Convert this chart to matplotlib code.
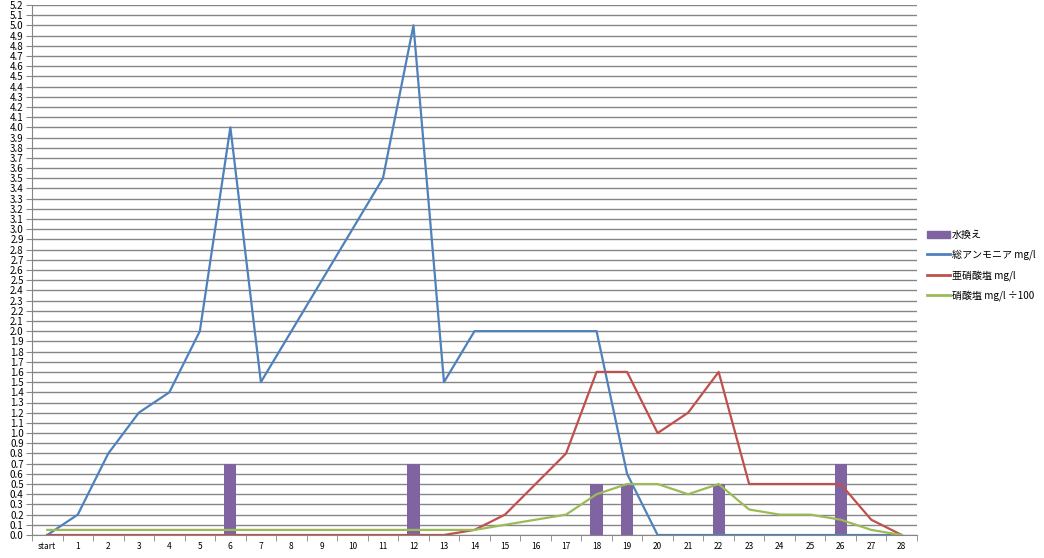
import numpy as np
import matplotlib
matplotlib.use("Agg")
import matplotlib.pyplot as plt
from matplotlib.patches import Patch
from matplotlib.lines import Line2D

plt.rcParams['font.family'] = ['Noto Sans CJK JP', 'DejaVu Sans']

days = ['start'] + [str(i) for i in range(1, 29)]
ammonia = [0, 0.2, 0.8, 1.2, 1.4, 2.0, 4.0, 1.5, 2.0, 2.5, 3.0, 3.5, 5.0, 1.5, 2.0,
           2.0, 2.0, 2.0, 2.0, 0.6, 0, 0, 0, 0, 0, 0, 0, 0, 0]
nitrite = [0, 0, 0, 0, 0, 0, 0, 0, 0, 0, 0, 0, 0, 0, 0.05,
           0.2, 0.5, 0.8, 1.6, 1.6, 1.0, 1.2, 1.6, 0.5, 0.5, 0.5, 0.5, 0.15, 0]
nitrate = [0.05] * 15 + [0.1, 0.15, 0.2, 0.4, 0.5, 0.5, 0.4, 0.5, 0.25, 0.2, 0.2, 0.15, 0.05, 0]
water_change = [0, 0, 0, 0, 0, 0, 0.7, 0, 0, 0, 0, 0, 0.7, 0, 0,
                0, 0, 0, 0.5, 0.5, 0, 0, 0.5, 0, 0, 0, 0.7, 0, 0]

c_bar = '#8064A2'
c_nh = '#4F81BD'
c_no2 = '#C0504D'
c_no3 = '#9BBB59'

fig = plt.figure(figsize=(10.44, 5.58), dpi=100)
ax = fig.add_axes([32/1044, 23/558, (917-32)/1044, (535-5)/558])

x = np.arange(len(days))
ax.bar(x, water_change, width=0.4, color=c_bar, zorder=2)
ax.plot(x, ammonia, color=c_nh, lw=1.6, zorder=3)
ax.plot(x, nitrite, color=c_no2, lw=1.6, zorder=3)
ax.plot(x, nitrate, color=c_no3, lw=1.6, zorder=3)

ax.set_xlim(-0.5, len(days) - 0.5)
ax.set_ylim(0, 5.2)
yt = np.round(np.arange(0, 5.21, 0.1), 1)
ax.set_yticks(yt)
ax.set_yticklabels([f'{v:.1f}' for v in yt], fontsize=7)
ax.yaxis.grid(True, color='#868686', lw=1, zorder=0)
ax.set_xticks(x)
ax.set_xticklabels(days, fontsize=6)
ax.set_xticks(np.arange(-0.5, len(days), 1), minor=True)
ax.tick_params(axis='x', which='major', length=0, pad=5)
ax.tick_params(axis='x', which='minor', length=4, color='#868686', direction='out')
ax.tick_params(axis='y', length=4, color='#868686', direction='out', pad=2)
for s in ['top', 'right']:
    ax.spines[s].set_visible(False)
for s in ['left', 'bottom']:
    ax.spines[s].set_color('#868686')

handles = [Patch(color=c_bar), Line2D([], [], color=c_nh, lw=2),
           Line2D([], [], color=c_no2, lw=2), Line2D([], [], color=c_no3, lw=2)]
labels = ['水換え', '総アンモニア mg/l', '亜硝酸塩 mg/l', '硝酸塩 mg/l ÷100']
fig.legend(handles, labels, loc='upper left', bbox_to_anchor=(924/1044, 1 - 227/558),
           frameon=False, fontsize=7.2, handlelength=2.3, handleheight=0.7,
           labelspacing=0.95, handletextpad=0.2, borderaxespad=0, borderpad=0.3)

fig.savefig('out.png', dpi=100)
